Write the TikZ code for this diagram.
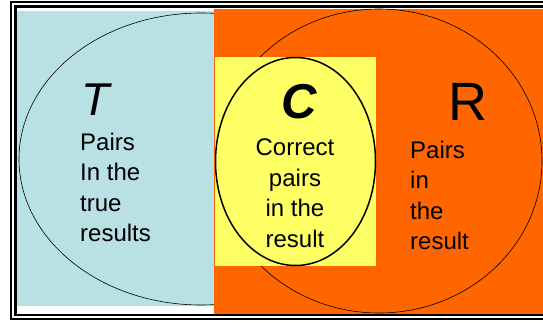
\documentclass[tikz,border=0pt]{standalone}
\usepackage{fontspec}
\setmainfont{Liberation Sans}
\definecolor{setT}{RGB}{185,224,227}
\definecolor{setR}{RGB}{255,102,0}
\definecolor{setC}{RGB}{255,255,102}
\begin{document}
\begin{tikzpicture}[x=1pt,y=-1pt,
  frameline/.style={draw=black,line width=2.2pt},
  setoutline/.style={draw=black,line width=0.6pt},
  bodytext/.style={inner sep=0pt,font=\fontsize{24}{30.6}\selectfont},
  setletter/.style={inner sep=0pt}]
  \fill[white] (0,0) rectangle (543,324);
  \useasboundingbox (0,0) rectangle (543,324);
  \clip (0,0) rectangle (543,324);
  % double frame
  \draw[frameline] (11,2.3) rectangle (560,319);
  \draw[frameline] (15.5,6.5) rectangle (556,315.3);
  % set T
  \fill[setT] (17,11) rectangle (214,306);
  \draw[setoutline] (201,159) ellipse [x radius=182pt, y radius=146pt];
  % set R
  \fill[setR] (214,9) rectangle (545,314);
  \draw[setoutline] (379,161) ellipse [x radius=163pt, y radius=152pt];
  % set C
  \fill[setC] (215,57) rectangle (376,266);
  \draw[line width=1.5pt,fill=setC] (295.5,161.5) ellipse [x radius=80pt, y radius=104pt];
  % letters
  \node[setletter,anchor=base west,font=\fontsize{46}{46}\selectfont\itshape] (lT) at (81,115) {T};
  \node[setletter,anchor=base,font=\fontsize{49}{49}\selectfont\bfseries\itshape] (lC) at (299,118) {C};
  \node[setletter,anchor=base,font=\fontsize{54}{54}\selectfont] (lR) at (468,120) {R};
  % descriptions (base anchor sits on the last line)
  \node[bodytext,anchor=base west,align=left] (tT) at (80,241.8) {Pairs\\In the\\true\\results};
  \node[bodytext,anchor=base,align=center] (tC) at (295,247.5) {Correct\\pairs\\in the\\result};
  \node[bodytext,anchor=base west,align=left] (tR) at (410,249.8) {Pairs\\in\\the\\result};
\end{tikzpicture}
\end{document}
